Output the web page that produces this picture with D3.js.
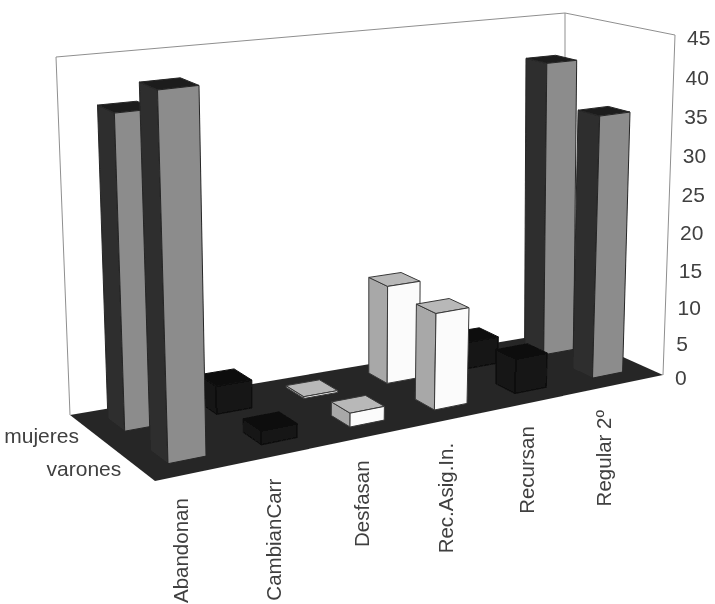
<!DOCTYPE html>
<html><head><meta charset="utf-8">
<script src="https://d3js.org/d3.v7.min.js"></script>
<style>html,body{margin:0;background:#fff}svg{display:block}text{font-family:"Liberation Sans",Arial,sans-serif;fill:#3f3f3f}</style>
</head><body><div id="chart"></div>
<script>
const categories = ["Abandonan","CambianCarr","Desfasan","Rec.Asig.In.","Recursan","Regular 2º"];
const seriesNames = ["varones","mujeres"];
const varones = [44.5, 2, 2, 13, 5, 35];
const mujeres = [39.5, 4, 0.3, 13.5, 4, 40];
const valueTicks = [0,5,10,15,20,25,30,35,40,45];

const W=715,H=604;
const svg=d3.select("#chart").append("svg").attr("width",W).attr("height",H);
const defs=svg.append("defs");
defs.append("filter").attr("id","scan").append("feGaussianBlur").attr("stdDeviation",0.7);
const root=svg.append("g").attr("filter","url(#scan)");

// plot frame on the page: [front-left, front-right, back-right, back-left]
const floorQuad=[[155,481],[663,375],[565,331],[70,415]];
const ceilQuad=[[142,96],[675,35],[565,13],[56,57]];

const xS=d3.scaleBand().domain(categories).range([-0.002,0.998]).paddingInner(0.6).paddingOuter(0.3);
const yS=d3.scaleBand().domain(seriesNames).range([0.02,1.02]).paddingInner(0.6).paddingOuter(0.3);
const zS=d3.scalePow().exponent(1.05).domain([0,45]).range([0,1]);

function makeMap(q){
  const [p0,p1,p2,p3]=q;
  const den=(p1[0]-p2[0])*(p3[1]-p2[1])-(p3[0]-p2[0])*(p1[1]-p2[1]);
  const sx=p0[0]-p1[0]+p2[0]-p3[0], sy=p0[1]-p1[1]+p2[1]-p3[1];
  const g=(sx*(p3[1]-p2[1])-(p3[0]-p2[0])*sy)/den;
  const h=((p1[0]-p2[0])*sy-sx*(p1[1]-p2[1]))/den;
  return (u,v)=>{
    const w=g*u+h*v+1;
    return [0,1].map(k=>{
      const hom=((p1[k]-p0[k]+g*p1[k])*u+(p3[k]-p0[k]+h*p3[k])*v+p0[k])/w;
      const bil=(1-v)*((1-u)*p0[k]+u*p1[k])+v*((1-u)*p3[k]+u*p2[k]);
      return (hom+bil)/2;
    });
  };
}
const floorAt=makeMap(floorQuad), ceilAt=makeMap(ceilQuad);
function P(u,v,z){
  const a=floorAt(u,v),b=ceilAt(u,v);
  return [a[0]+(b[0]-a[0])*z,a[1]+(b[1]-a[1])*z];
}
const poly=pts=>"M"+pts.map(p=>p.map(n=>n.toFixed(1)).join(",")).join("L")+"Z";

// walls
[[[0,1,0],[0,1,1],[1,1,1]],[[1,1,1],[1,0,1],[1,0,0]],[[1,1,0],[1,1,1]]].forEach(l=>{
  root.append("path").attr("d",d3.line()(l.map(a=>P(...a)))).attr("fill","none").attr("stroke","#8f8f8f").attr("stroke-width",1);
});
// floor
root.append("path").attr("d",poly([P(0,0,0),P(1,0,0),P(1,1,0),P(0,1,0)])).attr("fill","#272727");

// bars, back row first, left to right
const tone=d3.scaleOrdinal().domain(categories).range(["steel","black","pale","pale","black","steel"]);
const palette={steel:{front:"#8c8c8c",side:"#2e2e2e",top:"#1f1f1f",line:"#262626"},
               black:{front:"#121212",side:"#121212",top:"#0e0e0e",line:"#111111"},
               pale:{front:"#fbfbfb",side:"#a8a8a8",top:"#b8b8b8",line:"#383838"}};
const rows=[{name:"mujeres",vals:mujeres},{name:"varones",vals:varones}];
const gBars=root.append("g");
rows.forEach(r=>{
  categories.forEach((c,i)=>{
    const u0=xS(c),u1=u0+xS.bandwidth(),v0=yS(r.name),v1=v0+yS.bandwidth(),z=zS(r.vals[i]);
    const col=palette[tone(c)];
    const b=gBars.append("g").attr("stroke",col.line).attr("stroke-width",1).attr("stroke-linejoin","round");
    b.append("path").attr("d",poly([P(u0,v1,0),P(u0,v0,0),P(u0,v0,z),P(u0,v1,z)])).attr("fill",col.side);
    b.append("path").attr("d",poly([P(u0,v0,z),P(u1,v0,z),P(u1,v1,z),P(u0,v1,z)])).attr("fill",col.top);
    b.append("path").attr("d",poly([P(u0,v0,0),P(u1,v0,0),P(u1,v0,z),P(u0,v0,z)])).attr("fill",col.front);
  });
});

// value axis labels
valueTicks.forEach(v=>{
  const p=P(1,0,zS(v));
  root.append("text").attr("x",p[0]+12).attr("y",p[1]+10).attr("font-size",21).text(v);
});
// category labels
categories.forEach(c=>{
  const p=P(xS(c)+xS.bandwidth()/2,0,0);
  root.append("text").attr("transform",`translate(${p[0]-14},${p[1]+27}) rotate(-90)`).attr("text-anchor","end").attr("font-size",20.5).text(c);
});
// series labels
rows.forEach(r=>{
  const p=P(0,yS(r.name)+yS.bandwidth()/2,0);
  root.append("text").attr("x",p[0]-10).attr("y",p[1]+13).attr("text-anchor","end").attr("font-size",21).text(r.name);
});
</script></body></html>
